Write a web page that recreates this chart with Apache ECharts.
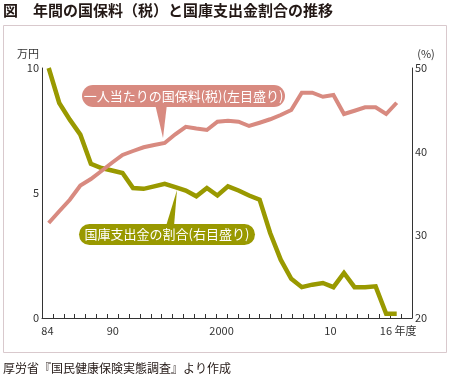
<!DOCTYPE html>
<html><head><meta charset="utf-8">
<script src="https://cdn.jsdelivr.net/npm/echarts@6/dist/echarts.min.js"></script>
<style>html,body{margin:0;padding:0;background:#fff}#c{width:450px;height:376px}</style>
</head><body><div id="c"></div>
<script>
// ---- data ----
const years = [1984,1985,1986,1987,1988,1989,1990,1991,1992,1993,1994,1995,1996,1997,1998,1999,2000,2001,2002,2003,2004,2005,2006,2007,2008,2009,2010,2011,2012,2013,2014,2015,2016,2017];
// 一人当たりの国保料(税) 万円 (left axis)
const premium = [3.80,4.27,4.73,5.30,5.56,5.88,6.21,6.52,6.68,6.83,6.92,7.00,7.35,7.65,7.58,7.52,7.85,7.89,7.85,7.68,7.81,7.95,8.12,8.32,9.01,9.01,8.85,8.92,8.16,8.29,8.43,8.43,8.16,8.61];
// 国庫支出金の割合 % (right axis)
const subsidyShare = [50.0,45.8,43.8,42.0,38.5,38.0,37.7,37.4,35.6,35.5,35.8,36.1,35.7,35.3,34.6,35.6,34.7,35.8,35.3,34.7,34.2,30.2,27.0,24.7,23.7,24.0,24.2,23.7,25.4,23.7,23.7,23.8,20.5,20.5];
// category axis used for tick marks and labels
const tickCategories = ['1984','1985','1986','1987','1988','1989','1990','1991','1992','1993','1994','1995','1996','1997','1998','1999','2000','2001','2002','2003','2004','2005','2006','2007','2008','2009','2010','2011','2012','2013','2014','2015','2016','2017'];
const xTickLabels = {'1984':'84','1990':'90','2000':'2000','2010':'10','2016':'  16 年度'};
const leftTicks = {min:0, max:10, interval:5};
const rightTicks = {min:20, max:50, interval:10};

const PINK = '#d88a80', GREEN = '#999900', AX = '#333';
const FONT = '"Noto Sans CJK JP", sans-serif';

const chart = echarts.init(document.getElementById('c'), null, {renderer:'canvas'});
chart.setOption({
  animation:false,
  backgroundColor:'#fff',
  textStyle:{fontFamily:FONT},
  grid:{left:42, right:38, top:68, bottom:58, containLabel:false},
  xAxis:[
    {type:'value', min:1983.365, max:2018.45, show:false},
    {type:'category', data:tickCategories, boundaryGap:true, position:'bottom',
     axisLine:{lineStyle:{color:AX, width:1}},
     axisTick:{show:true, inside:true, length:4, interval:0, lineStyle:{color:AX}},
     axisLabel:{interval:0, margin:7, fontSize:11, color:AX, fontFamily:FONT,
       formatter:v => xTickLabels[v] || ''},
     splitLine:{show:false}}
  ],
  yAxis:[
    {type:'value', position:'left', min:leftTicks.min, max:leftTicks.max, interval:leftTicks.interval,
     axisLine:{show:true, lineStyle:{color:AX}}, axisTick:{show:false}, splitLine:{show:false},
     axisLabel:{margin:3, fontSize:11, color:AX, fontFamily:FONT}},
    {type:'value', position:'right', min:rightTicks.min, max:rightTicks.max, interval:rightTicks.interval,
     axisLine:{show:true, lineStyle:{color:AX}}, axisTick:{show:false}, splitLine:{show:false},
     axisLabel:{margin:3, fontSize:11, color:AX, fontFamily:FONT}}
  ],
  series:[
    {type:'line', name:'国庫支出金の割合', xAxisIndex:0, yAxisIndex:1, symbol:'none',
     lineStyle:{color:GREEN, width:4.5, join:'miter'}, z:2,
     data:years.map((y,i)=>[y, subsidyShare[i]])},
    {type:'line', name:'一人当たりの国保料(税)', xAxisIndex:0, yAxisIndex:0, symbol:'none',
     lineStyle:{color:PINK, width:4, join:'miter'}, z:3,
     data:years.map((y,i)=>[y, premium[i]])}
  ],
  graphic:[
    {type:'rect', shape:{x:3.5, y:25.5, width:443, height:327}, style:{fill:'none', stroke:'#d9c9cd', lineWidth:1}, z:0, silent:true},
    {type:'text', left:3, top:3, style:{text:'図　年間の国保料（税）と国庫支出金割合の推移', font:'bold 15px '+FONT, fill:'#231815'}},
    {type:'text', left:3, top:362, style:{text:'厚労省『国民健康保険実態調査』より作成', font:'12px '+FONT, fill:'#231815'}},
    {type:'text', x:39, y:54, style:{text:'万円', font:'11px '+FONT, fill:AX, align:'right', verticalAlign:'middle'}},
    {type:'text', x:426, y:54, style:{text:'(%)', font:'11px '+FONT, fill:AX, align:'center', verticalAlign:'middle'}},
    // pink callout
    {type:'polygon', shape:{points:[[155,104],[167,104],[163,138]]}, style:{fill:PINK}, z:10},
    {type:'rect', shape:{x:82, y:85, width:203, height:22, r:11}, style:{fill:PINK}, z:10},
    {type:'text', x:183.5, y:96, z:11, style:{text:'一人当たりの国保料(税)(左目盛り)', font:'13px '+FONT, fill:'#fff', align:'center', verticalAlign:'middle'}},
    // green callout
    {type:'polygon', shape:{points:[[166,226],[174,226],[177,190]]}, style:{fill:GREEN}, z:10},
    {type:'rect', shape:{x:79, y:224, width:176, height:21, r:10.5}, style:{fill:GREEN}, z:10},
    {type:'text', x:167, y:234.5, z:11, style:{text:'国庫支出金の割合(右目盛り)', font:'13px '+FONT, fill:'#fff', align:'center', verticalAlign:'middle'}}
  ]
});
</script></body></html>
